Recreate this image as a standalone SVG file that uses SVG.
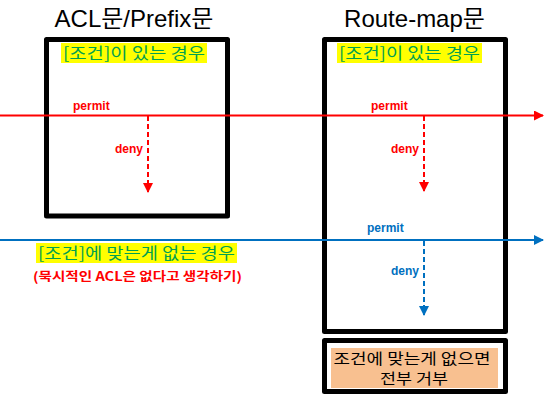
<svg xmlns="http://www.w3.org/2000/svg" width="560" height="405" viewBox="0 0 560 405">
<style>
.title{font-family:"Liberation Sans","Noto Sans CJK KR",sans-serif;font-size:24px;fill:#000;text-anchor:middle}
.box{fill:none;stroke:#000;stroke-width:5;stroke-linejoin:round}
.hl{fill:#FFFF00}
.cond{font-family:"Noto Sans CJK KR",sans-serif;font-size:16px;fill:#00A050}
.lbl{font-family:"Liberation Sans","Noto Sans CJK KR",sans-serif;font-size:12px;font-weight:bold}
.red{fill:#FF0000}
.blue{fill:#0070C0}
.note{font-family:"Noto Sans CJK KR",sans-serif;font-size:12.5px;font-weight:bold;fill:#FF0000}
.rline{stroke:#FF0000;stroke-width:2;fill:none}
.bline{stroke:#0070C0;stroke-width:2;fill:none}
.dash{stroke-dasharray:5,3}
.btxt{font-family:"Noto Sans CJK KR",sans-serif;font-size:14.5px;fill:#000;text-anchor:middle}
</style>
<defs>
<marker id="ar" markerWidth="10" markerHeight="10" refX="9" refY="5" orient="auto" markerUnits="userSpaceOnUse"><path d="M0,0 L10,5 L0,10 Z" fill="#FF0000"/></marker>
<marker id="ab" markerWidth="10" markerHeight="10" refX="9" refY="5" orient="auto" markerUnits="userSpaceOnUse"><path d="M0,0 L10,5 L0,10 Z" fill="#0070C0"/></marker>
</defs>
<g id="acl">
<text class="title" x="134" y="27">ACL문/Prefix문</text>
<rect class="box" x="46.5" y="39.5" width="181" height="176.5"/>
<rect class="hl" x="61" y="43" width="146" height="20"/>
<text class="cond" x="63" y="59" textLength="142" lengthAdjust="spacingAndGlyphs">[조건]이 있는 경우</text>
</g>
<g id="routemap">
<text class="title" x="414.5" y="27">Route-map문</text>
<rect class="box" x="324.5" y="39.5" width="181" height="292"/>
<rect class="hl" x="337" y="43" width="145" height="20"/>
<text class="cond" x="339" y="59" textLength="141" lengthAdjust="spacingAndGlyphs">[조건]이 있는 경우</text>
</g>
<g id="deny-all">
<rect class="box" x="324.5" y="340.5" width="181" height="51" stroke-width="4.5"/>
<rect x="331" y="348" width="167" height="40" fill="#F8C090"/>
<text class="btxt" x="412" y="364" textLength="157" lengthAdjust="spacingAndGlyphs">조건에 맞는게 없으면</text>
<text class="btxt" x="414" y="384" textLength="68" lengthAdjust="spacingAndGlyphs">전부 거부</text>
</g>
<g id="nomatch">
<rect class="hl" x="36" y="243" width="201" height="20"/>
<text class="cond" x="38" y="259" textLength="197" lengthAdjust="spacingAndGlyphs">[조건]에 맞는게 없는 경우</text>
<text class="note" x="33" y="281" textLength="209" lengthAdjust="spacingAndGlyphs">(묵시적인 ACL은 없다고 생각하기)</text>
</g>
<g id="connectors">
<line class="rline" x1="0" y1="115.5" x2="543" y2="115.5" marker-end="url(#ar)"/>
<line class="rline dash" x1="148" y1="116" x2="148" y2="192" marker-end="url(#ar)"/>
<line class="rline dash" x1="424" y1="116" x2="424" y2="191" marker-end="url(#ar)"/>
<line class="bline" x1="0" y1="240" x2="543" y2="240" marker-end="url(#ab)"/>
<line class="bline dash" x1="424" y1="241" x2="424" y2="315" marker-end="url(#ab)"/>
<text class="lbl red" x="73" y="110">permit</text>
<text class="lbl red" x="371" y="110">permit</text>
<text class="lbl red" x="115" y="153">deny</text>
<text class="lbl red" x="391" y="153">deny</text>
<text class="lbl blue" x="367" y="232">permit</text>
<text class="lbl blue" x="391" y="275">deny</text>
</g>
</svg>
